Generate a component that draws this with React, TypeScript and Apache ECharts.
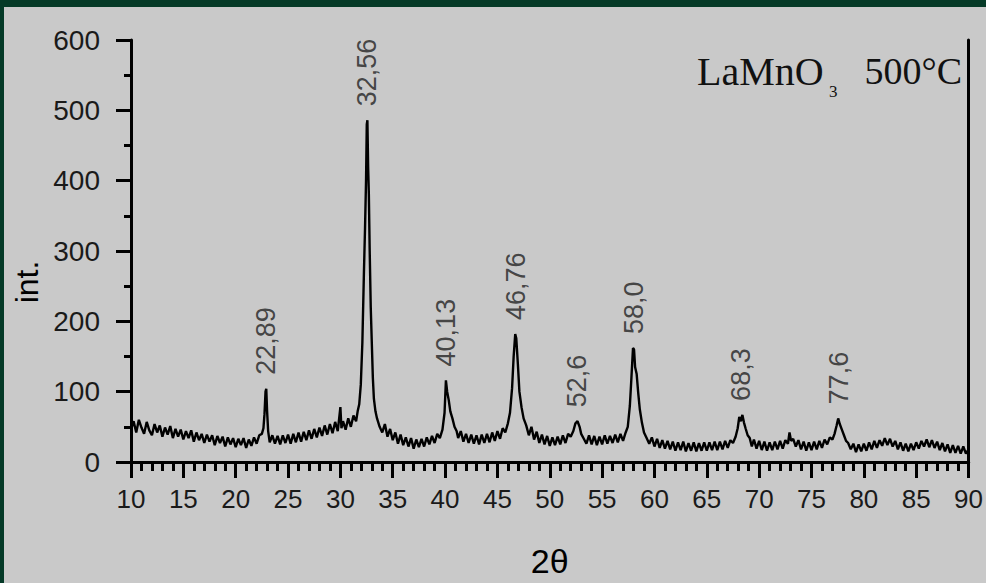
import React, { useEffect, useRef } from "react";
import * as echarts from "echarts";

const twoTheta: number[] = [
  10.0, 10.25, 10.5, 10.75, 11.0, 11.25, 11.5, 11.75, 12.0, 12.25, 12.5, 12.75,
  13.0, 13.25, 13.5, 13.75, 14.0, 14.25, 14.5, 14.75, 15.0, 15.25, 15.5, 15.75,
  16.0, 16.25, 16.5, 16.75, 17.0, 17.25, 17.5, 17.75, 18.0, 18.25, 18.5, 18.75,
  19.0, 19.25, 19.5, 19.75, 20.0, 20.25, 20.5, 20.75, 21.0, 21.25, 21.5, 21.75,
  22.0, 22.25, 22.5, 22.65, 22.75, 22.85, 22.92, 23.0, 23.1, 23.25, 23.5, 23.75,
  24.0, 24.25, 24.5, 24.75, 25.0, 25.25, 25.5, 25.75, 26.0, 26.25, 26.5, 26.75,
  27.0, 27.25, 27.5, 27.75, 28.0, 28.25, 28.5, 28.75, 29.0, 29.25, 29.5, 29.75,
  30.0, 30.1, 30.25, 30.5, 30.75, 31.0, 31.25, 31.5, 31.65, 31.8, 31.95, 32.1,
  32.25, 32.35, 32.45, 32.52, 32.58, 32.65, 32.72, 32.8, 32.9, 33.0, 33.1, 33.2,
  33.35, 33.5, 33.75, 34.0, 34.25, 34.5, 34.75, 35.0, 35.25, 35.5, 35.75, 36.0,
  36.25, 36.5, 36.75, 37.0, 37.25, 37.5, 37.75, 38.0, 38.25, 38.5, 38.75, 39.0,
  39.25, 39.5, 39.75, 39.95, 40.08, 40.2, 40.35, 40.5, 40.7, 40.9, 41.1, 41.25,
  41.5, 41.75, 42.0, 42.25, 42.5, 42.75, 43.0, 43.25, 43.5, 43.75, 44.0, 44.25,
  44.5, 44.75, 45.0, 45.25, 45.5, 45.75, 46.0, 46.2, 46.4, 46.55, 46.7, 46.8,
  46.95, 47.1, 47.3, 47.5, 47.75, 48.0, 48.25, 48.5, 48.75, 49.0, 49.25, 49.5,
  49.75, 50.0, 50.25, 50.5, 50.75, 51.0, 51.25, 51.5, 51.75, 52.0, 52.25, 52.45,
  52.65, 52.85, 53.0, 53.25, 53.5, 53.75, 54.0, 54.25, 54.5, 54.75, 55.0, 55.25,
  55.5, 55.75, 56.0, 56.25, 56.5, 56.75, 57.0, 57.25, 57.45, 57.65, 57.8, 57.95,
  58.05, 58.15, 58.3, 58.45, 58.6, 58.8, 59.0, 59.25, 59.5, 59.75, 60.0, 60.25,
  60.5, 60.75, 61.0, 61.25, 61.5, 61.75, 62.0, 62.25, 62.5, 62.75, 63.0, 63.25,
  63.5, 63.75, 64.0, 64.25, 64.5, 64.75, 65.0, 65.25, 65.5, 65.75, 66.0, 66.25,
  66.5, 66.75, 67.0, 67.25, 67.5, 67.75, 67.95, 68.1, 68.25, 68.4, 68.55, 68.7,
  68.9, 69.1, 69.3, 69.5, 69.75, 70.0, 70.25, 70.5, 70.75, 71.0, 71.25, 71.5,
  71.75, 72.0, 72.25, 72.5, 72.75, 72.9, 73.05, 73.25, 73.5, 73.75, 74.0, 74.25,
  74.5, 74.75, 75.0, 75.25, 75.5, 75.75, 76.0, 76.25, 76.5, 76.75, 77.0, 77.2,
  77.4, 77.55, 77.7, 77.9, 78.1, 78.3, 78.5, 78.75, 79.0, 79.25, 79.5, 79.75,
  80.0, 80.25, 80.5, 80.75, 81.0, 81.25, 81.5, 81.75, 82.0, 82.25, 82.5, 82.75,
  83.0, 83.25, 83.5, 83.75, 84.0, 84.25, 84.5, 84.75, 85.0, 85.25, 85.5, 85.75,
  86.0, 86.25, 86.5, 86.75, 87.0, 87.25, 87.5, 87.75, 88.0, 88.25, 88.5, 88.75,
  89.0, 89.25, 89.5, 89.75, 90.0,
];

const intensity: number[] = [
  46, 58, 42, 60, 49, 40, 57, 45, 38, 54, 42, 52,
  36, 49, 39, 51, 34, 47, 36, 46, 32, 44, 34, 45,
  29, 42, 31, 40, 27, 39, 29, 38, 24, 37, 27, 36,
  22, 35, 25, 34, 21, 33, 24, 34, 20, 32, 23, 35,
  26, 38, 40, 48, 68, 100, 104, 72, 44, 28, 38, 26,
  37, 25, 38, 27, 39, 26, 40, 28, 42, 29, 43, 31,
  45, 33, 47, 35, 49, 37, 52, 39, 54, 41, 57, 44,
  78, 48, 58, 46, 62, 50, 66, 58, 72, 82, 110, 170,
  270, 330, 400, 480, 486, 420, 380, 300, 220, 170, 120, 90,
  72, 62, 50, 42, 54, 36, 47, 31, 42, 26, 39, 24,
  35, 22, 34, 19, 32, 21, 33, 22, 35, 25, 37, 27,
  40, 34, 46, 70, 116, 100, 88, 72, 62, 50, 44, 34,
  44, 29, 40, 27, 39, 26, 38, 25, 39, 27, 40, 28,
  42, 30, 44, 33, 48, 42, 55, 70, 105, 150, 182, 176,
  140, 100, 78, 62, 52, 38, 50, 32, 43, 27, 39, 25,
  37, 23, 35, 24, 36, 25, 38, 27, 40, 36, 44, 55,
  58, 50, 40, 33, 26, 38, 25, 37, 24, 36, 25, 38,
  26, 37, 27, 39, 28, 40, 30, 42, 50, 80, 120, 162,
  160, 135, 125, 98, 75, 56, 42, 34, 26, 35, 22, 33,
  20, 31, 19, 30, 18, 29, 16, 28, 17, 29, 15, 27,
  16, 28, 15, 27, 16, 28, 16, 28, 17, 29, 17, 29,
  18, 30, 20, 31, 27, 36, 48, 64, 58, 67, 56, 48,
  38, 34, 22, 32, 19, 30, 17, 29, 16, 28, 17, 29,
  18, 30, 19, 31, 26, 42, 30, 33, 22, 31, 18, 29,
  16, 28, 17, 29, 18, 30, 20, 32, 25, 35, 32, 40,
  52, 62, 54, 46, 38, 30, 27, 18, 26, 14, 25, 15,
  26, 16, 28, 18, 30, 20, 31, 23, 34, 24, 33, 22,
  30, 18, 28, 16, 26, 15, 26, 17, 28, 19, 30, 22,
  32, 21, 31, 20, 29, 17, 27, 15, 25, 13, 24, 13,
  23, 12, 22, 12, 18,
];

// peak annotations
const peakPositions: number[] = [22.89, 32.56, 40.13, 46.76, 52.6, 58.0, 68.3, 77.6];
const peakHeights: number[] = [104, 486, 116, 182, 58, 162, 67, 62];
const peakLabels: string[] = ["22,89", "32,56", "40,13", "46,76", "52,6", "58,0", "68,3", "77,6"];

const xTicks = { min: 10, max: 90, interval: 5 };
const yTicks = { min: 0, max: 600, interval: 100 };

const SANS = "'Liberation Sans', Arial, sans-serif";
const SERIF = "'Liberation Serif', 'Times New Roman', serif";

export default function App() {
  const ref = useRef<HTMLDivElement>(null);

  useEffect(() => {
    if (!ref.current) return;
    const chart = echarts.init(ref.current, undefined, { renderer: "svg" });

    const lineData = twoTheta.map((x, i) => [x, intensity[i]]);
    const peakData = peakPositions.map((x, i) => [x, peakHeights[i], peakLabels[i]]);

    const option: any = {
      animation: false,
      backgroundColor: "#c9c9c9",
      grid: { left: 131, right: 14, top: 40, bottom: 113, containLabel: false },
      xAxis: [
        {
          type: "value",
          position: "bottom",
          min: xTicks.min,
          max: xTicks.max,
          interval: xTicks.interval,
          axisLine: { show: true, lineStyle: { color: "#000", width: 3 } },
          axisTick: { show: true, inside: false, length: 16, lineStyle: { color: "#000", width: 3 } },
          minorTick: { show: true, splitNumber: 5, length: 9, lineStyle: { color: "#000", width: 3 } },
          splitLine: { show: false },
          minorSplitLine: { show: false },
          axisLabel: {
            margin: 24,
            fontSize: 26,
            fontFamily: SANS,
            color: "#1a1a1a",
            showMinLabel: true,
            showMaxLabel: true,
          },
          name: "2θ",
          nameLocation: "middle",
          nameGap: 82,
          nameTextStyle: { fontSize: 34, fontFamily: SANS, color: "#000" },
        },
        {
          type: "value",
          position: "top",
          min: xTicks.min,
          max: xTicks.max,
          axisLine: { show: true, lineStyle: { color: "#000", width: 3 } },
          axisTick: { show: false },
          axisLabel: { show: false },
          splitLine: { show: false },
        },
      ],
      yAxis: [
        {
          type: "value",
          position: "left",
          min: yTicks.min,
          max: yTicks.max,
          interval: yTicks.interval,
          axisLine: { show: true, lineStyle: { color: "#000", width: 3 } },
          axisTick: { show: true, inside: false, length: 15, lineStyle: { color: "#000", width: 3 } },
          minorTick: { show: true, splitNumber: 2, length: 7, lineStyle: { color: "#000", width: 3 } },
          splitLine: { show: false },
          minorSplitLine: { show: false },
          axisLabel: { margin: 31, fontSize: 28, fontFamily: SANS, color: "#1a1a1a" },
        },
        {
          type: "value",
          position: "right",
          min: yTicks.min,
          max: yTicks.max,
          axisLine: { show: true, lineStyle: { color: "#000", width: 3 } },
          axisTick: { show: false },
          axisLabel: { show: false },
          splitLine: { show: false },
        },
      ],
      series: [
        {
          type: "line",
          xAxisIndex: 0,
          yAxisIndex: 0,
          data: lineData,
          showSymbol: false,
          symbol: "none",
          lineStyle: { color: "#000", width: 2.4 },
          z: 3,
        },
        {
          type: "scatter",
          xAxisIndex: 0,
          yAxisIndex: 0,
          data: peakData,
          symbolSize: 0,
          itemStyle: { color: "transparent" },
          label: {
            show: true,
            position: "top",
            distance: 14,
            rotate: 90,
            align: "left",
            verticalAlign: "middle",
            fontSize: 27,
            fontFamily: SANS,
            color: "#222",
            formatter: (p: any) => p.data[2],
          },
          z: 4,
        },
      ],
      graphic: [
        { type: "rect", shape: { x: 0, y: 0, width: 986, height: 7 }, style: { fill: "#053a27" }, z: 100 },
        { type: "rect", shape: { x: 0, y: 0, width: 4, height: 583 }, style: { fill: "#053a27" }, z: 100 },
        {
          type: "text",
          x: 27,
          y: 282,
          rotation: Math.PI / 2,
          style: {
            text: "int.",
            fontSize: 32,
            fontFamily: SANS,
            fill: "#000",
            align: "center",
            verticalAlign: "middle",
          },
        },
        {
          type: "text",
          x: 697,
          y: 71,
          style: {
            text: "LaMnO",
            fontSize: 40,
            fontFamily: SERIF,
            fill: "#111",
            align: "left",
            verticalAlign: "middle",
          },
        },
        {
          type: "text",
          x: 829,
          y: 91,
          style: {
            text: "3",
            fontSize: 17,
            fontFamily: SERIF,
            fill: "#111",
            align: "left",
            verticalAlign: "middle",
          },
        },
        {
          type: "text",
          x: 962,
          y: 71,
          style: {
            text: "500°C",
            fontSize: 38,
            fontFamily: SERIF,
            fill: "#111",
            align: "right",
            verticalAlign: "middle",
          },
        },
      ],
    };

    chart.setOption(option);
    return () => chart.dispose();
  }, []);

  return (
    <div
      ref={ref}
      style={{ position: "fixed", left: 0, top: 0, width: 986, height: 583 }}
    />
  );
}
